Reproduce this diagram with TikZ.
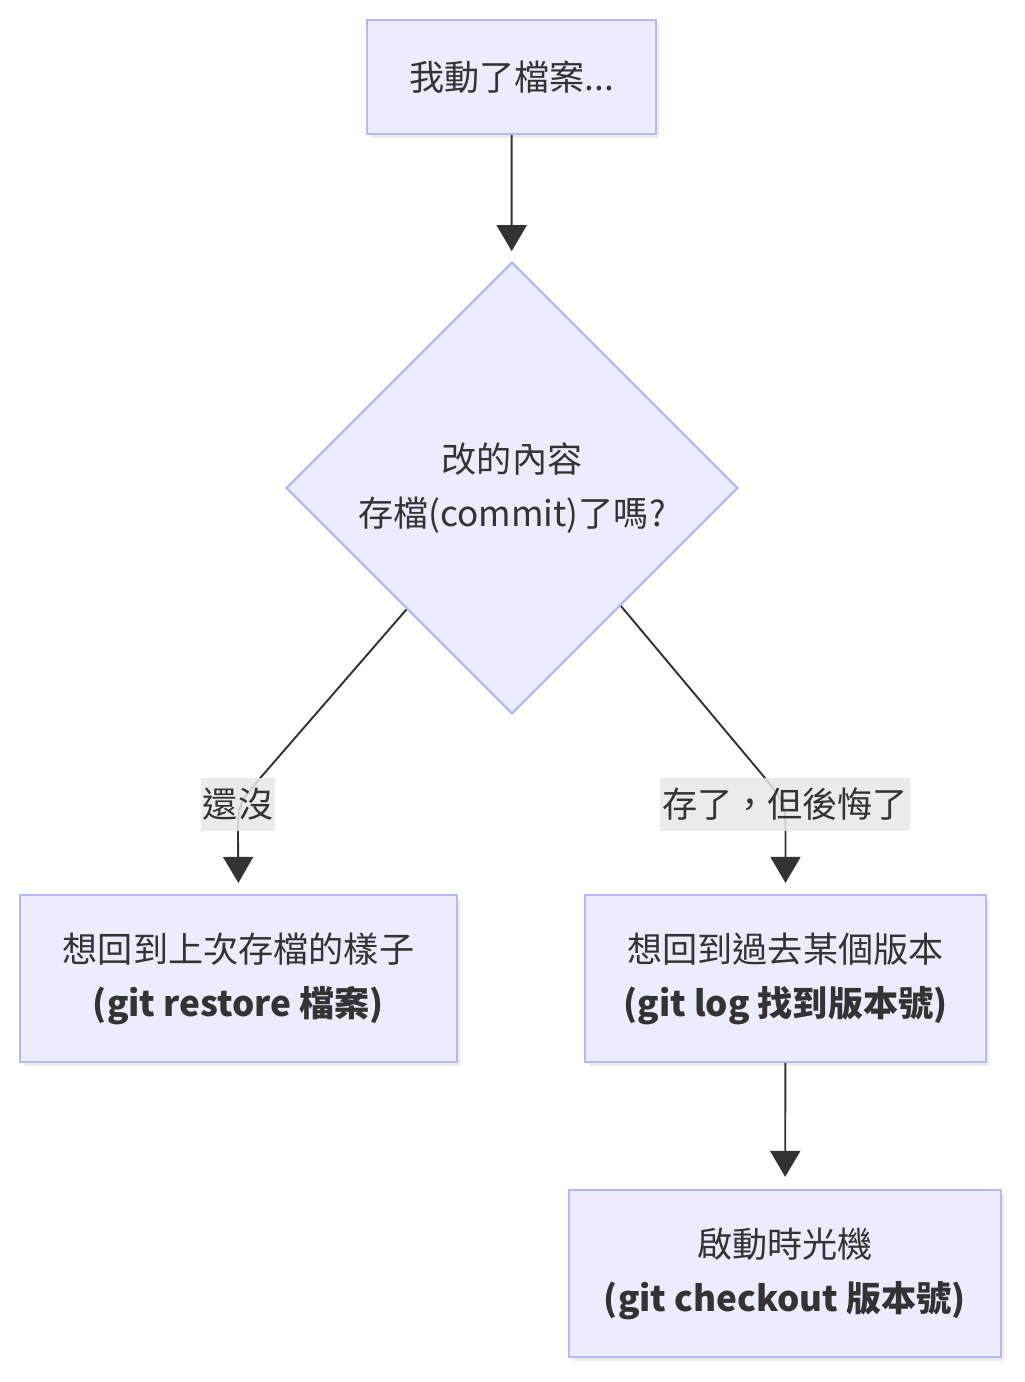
\documentclass[tikz,border=0pt]{standalone}
\usepackage{fontspec}
\setmainfont{Noto Sans CJK TC}
\usetikzlibrary{calc,positioning,shapes.geometric,arrows.meta,shadows}
\definecolor{boxfill}{HTML}{ECECFF}
\definecolor{boxline}{HTML}{B8B8F8}
\definecolor{edgeline}{HTML}{333333}
\definecolor{labelbg}{HTML}{E8E8E8}

\begin{document}
\begin{tikzpicture}[x=0.02cm,y=-0.02cm,
            every node/.append style={text=edgeline,font=\fontsize{20}{30.7}\selectfont},
            box/.style={draw=boxline,fill=boxfill,line width=1.3pt,align=center,inner sep=0pt,
                drop shadow={shadow xshift=2pt,shadow yshift=-2pt,opacity=0.15}},
            decision/.style={diamond,draw=boxline,fill=boxfill,line width=1.3pt,align=center,
                inner sep=0pt,minimum width=9.04cm,minimum height=9.04cm},
            edgelabel/.style={fill=labelbg,fill opacity=0.85,text opacity=1,inner xsep=1pt,
                minimum height=1.06cm},
            edge/.style={draw=edgeline,line width=1.1pt,-{Triangle[length=0.52cm,width=0.6cm]}}
        ]
            \useasboundingbox (0,0) rectangle (1024,1382);

            \node[box,minimum width=5.78cm,minimum height=2.28cm] (changed) at (511.5,77) {我動了檔案...};
            \node[decision] (dec) at (512,488) {改的內容\\存檔(commit)了嗎?};
            \node[box,minimum width=8.74cm,minimum height=3.34cm] (restore) at (238.5,978.5)
                {想回到上次存檔的樣子\\\textbf{(git restore 檔案)}};
            \node[box,minimum width=8.02cm,minimum height=3.34cm] (gitlog) at (785.5,978.5)
                {想回到過去某個版本\\\textbf{(git log 找到版本號)}};
            \node[box,minimum width=8.64cm,minimum height=3.34cm] (checkout) at (785,1273.5)
                {啟動時光機\\\textbf{(git checkout 版本號)}};

            % bends of the two branches
            \coordinate (l1) at (262,776);
            \coordinate (l2) at (238,838);
            \coordinate (r1) at (765,778);
            \coordinate (r2) at (785.5,838);

            \draw[edge,shorten >=0.2cm] (changed) -- (dec);
            \draw[edge,shorten >=0.22cm] ($(dec.west)!0.535!(dec.south)$) -- (l1)
                .. controls (238,804) .. (l2) -- (restore.north);
            \draw[edge,shorten >=0.22cm] ($(dec.east)!0.52!(dec.south)$) -- (r1)
                .. controls (785.5,804) .. (r2) -- (gitlog.north);
            \draw[edge,shorten >=0.24cm] (gitlog) -- (checkout);

            \node[edgelabel] (no) at (238,804) {還沒};
            \node[edgelabel] (regret) at (785,804) {存了，但後悔了};
        \end{tikzpicture}
\end{document}
